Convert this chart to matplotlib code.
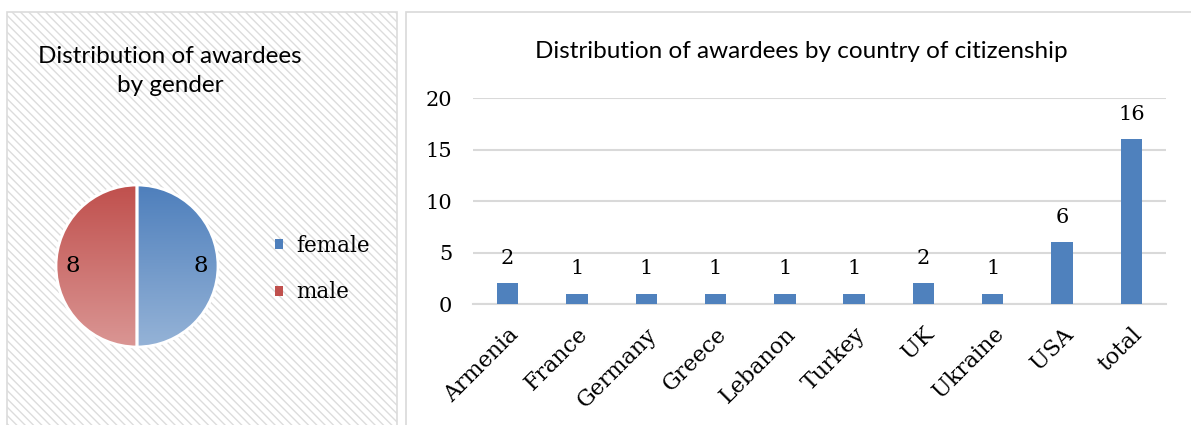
import matplotlib
matplotlib.use('Agg')
import matplotlib.pyplot as plt
import matplotlib.transforms as mtransforms
import numpy as np
from matplotlib.patches import Rectangle, Patch, Wedge
from matplotlib.colors import LinearSegmentedColormap

# Data
genders = ['female', 'male']
gender_counts = [8, 8]

countries = ['Armenia', 'France', 'Germany', 'Greece', 'Lebanon',
             'Turkey', 'UK', 'Ukraine', 'USA', 'total']
country_counts = [2, 1, 1, 1, 1, 1, 2, 1, 6, 16]
y_ticks = [0, 5, 10, 15, 20]

BLUE = '#4F81BD'
GRADS = {
    'female': ('#4E7FBC', '#95B3D7'),
    'male': ('#C0504D', '#DA9694'),
}
GRID = '#D9D9D9'
SERIF = 'DejaVu Serif'
SANS = 'Lato'

W, H = 1191, 425
fig = plt.figure(figsize=(W / 100, H / 100), dpi=100)
fig.patch.set_facecolor('white')


def px(x, y, w, h):
    """Pixel box (top-left origin) -> figure fraction rect."""
    return [x / W, 1 - (y + h) / H, w / W, h / H]


# Panel backgrounds
plt.rcParams['hatch.linewidth'] = 1.0
left_bg = Rectangle((7 / W, -0.05), 390 / W, 1.05 - 12 / H, transform=fig.transFigure,
                    facecolor='white', edgecolor='#DCDCDC', hatch='\\\\\\\\',
                    linewidth=1.2, zorder=-5)
right_bg = Rectangle((406 / W, -0.05), 800 / W, 1.05 - 12 / H, transform=fig.transFigure,
                     facecolor='white', edgecolor='#D9D9D9', linewidth=1.2, zorder=-5)
fig.patches.extend([left_bg, right_bg])

# ---- Pie chart ----
cx, cy, r = 137, 266, 81
ax_pie = fig.add_axes(px(cx - r, cy - r, 2 * r, 2 * r))
ax_pie.patch.set_alpha(0)

total = sum(gender_counts)
wedges, texts, autotexts = ax_pie.pie(
    gender_counts, startangle=90, counterclock=False, radius=1.0,
    colors=[GRADS[g][0] for g in genders],
    wedgeprops=dict(edgecolor='white', linewidth=2),
    autopct=lambda p: f'{p * total / 100:.0f}', pctdistance=0.79,
    textprops=dict(family=SERIF, fontsize=16.5, color='black'))
ax_pie.set_xlim(-1, 1)
ax_pie.set_ylim(-1, 1)
ax_pie.set_aspect('equal')
ax_pie.axis('off')

grad = np.linspace(0, 1, 256).reshape(-1, 1)
for w, g in zip(wedges, genders):
    cmap = LinearSegmentedColormap.from_list(g, list(GRADS[g]))
    im = ax_pie.imshow(grad, cmap=cmap, extent=[-1, 1, -1, 1], origin='upper',
                       aspect='auto', zorder=w.get_zorder() + 0.1)
    im.set_clip_path(w)
    edge = Wedge(w.center, w.r, w.theta1, w.theta2, facecolor='none',
                 edgecolor='white', linewidth=2, zorder=w.get_zorder() + 0.2)
    ax_pie.add_patch(edge)
for t in autotexts:
    t.set_zorder(5)
ax_pie.set_xlim(-1, 1)
ax_pie.set_ylim(-1, 1)

handles = [Patch(facecolor=GRADS[g][0], edgecolor='none') for g in genders]
fig.legend(handles, genders, loc='center left', bbox_to_anchor=(256 / W, 1 - 269 / H),
           frameon=False, prop=dict(family=SERIF, size=15.5),
           handlelength=0.35, handleheight=0.35, handletextpad=0.6, labelspacing=1.15)

fig.text(170 / W, 1 - 71 / H, 'Distribution of awardees\nby gender', ha='center', va='center',
         family=SANS, fontsize=17.5, linespacing=1.45)

# ---- Bar chart ----
ax = fig.add_axes(px(473, 98, 693, 206))
x = np.arange(len(countries))
bars = ax.bar(x, country_counts, width=0.31, color=BLUE, zorder=3)
ax.bar_label(bars, padding=11, family=SERIF, fontsize=15)
ax.set_xlim(-0.5, len(countries) - 0.5)
ax.set_ylim(0, 20)
ax.set_yticks(y_ticks)
ax.set_yticklabels([str(v) for v in y_ticks], family=SERIF, fontsize=15)
ax.set_xticks(x)
ax.set_xticklabels(countries, rotation=45, ha='right', va='top', rotation_mode='anchor',
                   family=SERIF, fontsize=16)
# nudge rotated labels a little to the right, like the original
shift = mtransforms.ScaledTranslation(1 / 100, 0, fig.dpi_scale_trans)
for lbl in ax.get_xticklabels():
    lbl.set_transform(lbl.get_transform() + shift)
ax.tick_params(axis='both', length=0)
ax.tick_params(axis='y', pad=15)
ax.tick_params(axis='x', pad=14)
ax.yaxis.grid(True, color=GRID, linewidth=1.5, zorder=0)
ax.set_axisbelow(True)
for s in ['top', 'right', 'left']:
    ax.spines[s].set_visible(False)
ax.spines['bottom'].set_color(GRID)
ax.spines['bottom'].set_linewidth(1.5)
ax.patch.set_alpha(0)

fig.text(801 / W, 1 - 52 / H, 'Distribution of awardees by country of citizenship',
         ha='center', va='center', family=SANS, fontsize=17.5)

fig.savefig('out.png', dpi=100, facecolor='white')
